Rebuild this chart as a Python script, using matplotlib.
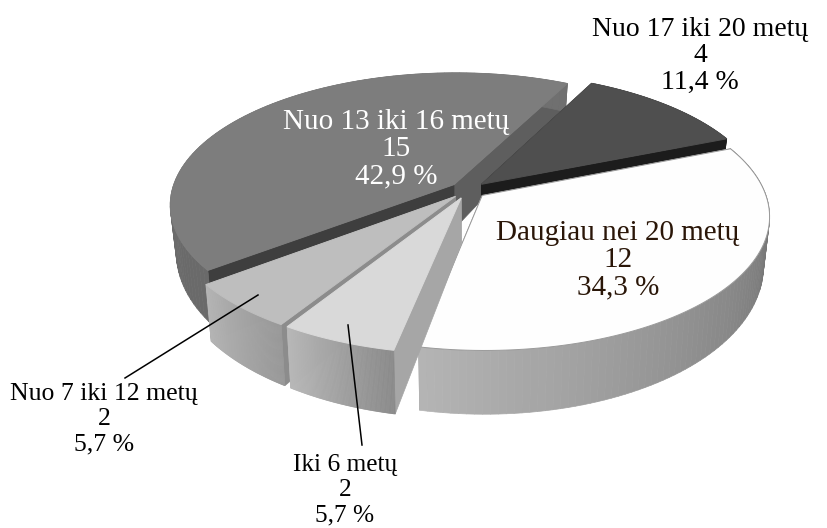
import numpy as np
import matplotlib
matplotlib.use("Agg")
import matplotlib.pyplot as plt
from matplotlib.collections import PolyCollection
from matplotlib.colors import to_rgb
from matplotlib.patches import Polygon

# data, clockwise from the small dark slice
categories = ["Nuo 17 iki 20 metų", "Daugiau nei 20 metų", "Iki 6 metų", "Nuo 7 iki 12 metų", "Nuo 13 iki 16 metų"]
counts = [4, 12, 2, 2, 15]
percents = ["11,4 %", "34,3 %", "5,7 %", "5,7 %", "42,9 %"]

# look of the fake 3d pie
CX, CY = 468, 190
RX, RY = 282, 130
PERSP = 0.15
EXPLODE = 0.065
START = 22 + 41.14

top_colors = ["#4f4f4f", "#fefefe", "#d9d9d9", "#bebebe", "#7d7d7d"]
wall_colors = [("#1c1c1c", "#1c1c1c"), ("#5f5f5f", "#b4b4b4"), ("#8a8a8a", "#b8b8b8"),
               ("#989898", "#b4b4b4"), ("#6a6a6a", "#707070")]
end_face_colors = ["#1c1c1c", "#a0a0a0", "#a8a8a8", "#8c8c8c", "#5e5e5e"]   # face at the far end
start_face_colors = ["#1c1c1c", "#a0a0a0", "#a6a6a6", "#8c8c8c", "#3e3e3e"]  # face at the start


def depth(v):
    return 45 - 18 * v


def project(u, v, bottom=False):
    u, v = np.asarray(u, float), np.asarray(v, float)
    w = 1 + PERSP * v
    x = CX + RX * u / w
    y = CY - RY * v / w
    if bottom:
        x = CX + (x - CX) * 0.98
        y = y + depth(v)
    return np.column_stack([x, y])


def slice_geometry(a0, a1):
    mid = np.radians((a0 + a1) / 2)
    ax0, ay0 = EXPLODE * np.cos(mid), EXPLODE * np.sin(mid)
    t = np.radians(np.linspace(a0, a1, 90))
    return ax0, ay0, ax0 + np.cos(t), ay0 + np.sin(t)


def cut_face(ax, ax0, ay0, u, v, color):
    top = project([ax0, u], [ay0, v])
    bot = project([ax0, u], [ay0, v], bottom=True)
    ax.add_patch(Polygon(np.vstack([top, bot[::-1]]), closed=True, fc=color, ec=color, lw=0.5))


def draw_slice(ax, i, a0, a1):
    ax0, ay0, u, v = slice_geometry(a0, a1)
    top = project(u, v)
    bot = project(u, v, bottom=True)
    # cut faces go first, the wall and the top hide whatever faces away
    cut_face(ax, ax0, ay0, u[-1], v[-1], end_face_colors[i])
    cut_face(ax, ax0, ay0, u[0], v[0], start_face_colors[i])
    c0, c1 = np.array(to_rgb(wall_colors[i][0])), np.array(to_rgb(wall_colors[i][1]))
    strips, cols = [], []
    for k in range(len(u) - 1):
        strips.append([top[k], top[k + 1], bot[k + 1], bot[k]])
        cols.append(c0 + (c1 - c0) * k / (len(u) - 2))
    ax.add_collection(PolyCollection(strips, facecolors=cols, edgecolors=cols, linewidths=0.5))
    outline = np.vstack([project([ax0], [ay0]), top])
    ax.add_patch(Polygon(outline, closed=True, fc=top_colors[i],
                         ec="#9a9a9a" if i == 1 else top_colors[i], lw=0.7))


fig = plt.figure(figsize=(8.27, 5.28), dpi=100)
ax = fig.add_axes([0, 0, 1, 1])
ax.set_xlim(0, 827)
ax.set_ylim(528, 0)
ax.axis("off")

spans = 360 * np.array(counts) / sum(counts)
ends = START - np.cumsum(spans)
starts = ends + spans
for i in [4, 0, 1, 3, 2]:
    draw_slice(ax, i, starts[i], ends[i])

# leader lines
ax.plot([258, 125], [295, 378], color="black", lw=1.1)
ax.plot([348, 362], [325, 445], color="black", lw=1.1)

plt.rcParams["font.family"] = "Liberation Serif"
label_pos = [(700, 56), (618, 260), (345, 490), (104, 419), (396, 149)]
label_color = ["black", "#2a1608", "black", "black", "white"]
label_size = [20, 21, 18.3, 18.5, 21]
for i in range(len(categories)):
    ax.text(label_pos[i][0], label_pos[i][1], f"{categories[i]}\n{counts[i]}\n{percents[i]}",
            ha="center", va="center", ma="center", fontsize=label_size[i],
            linespacing=22 / label_size[i], color=label_color[i])

fig.savefig("out.png", dpi=100)
